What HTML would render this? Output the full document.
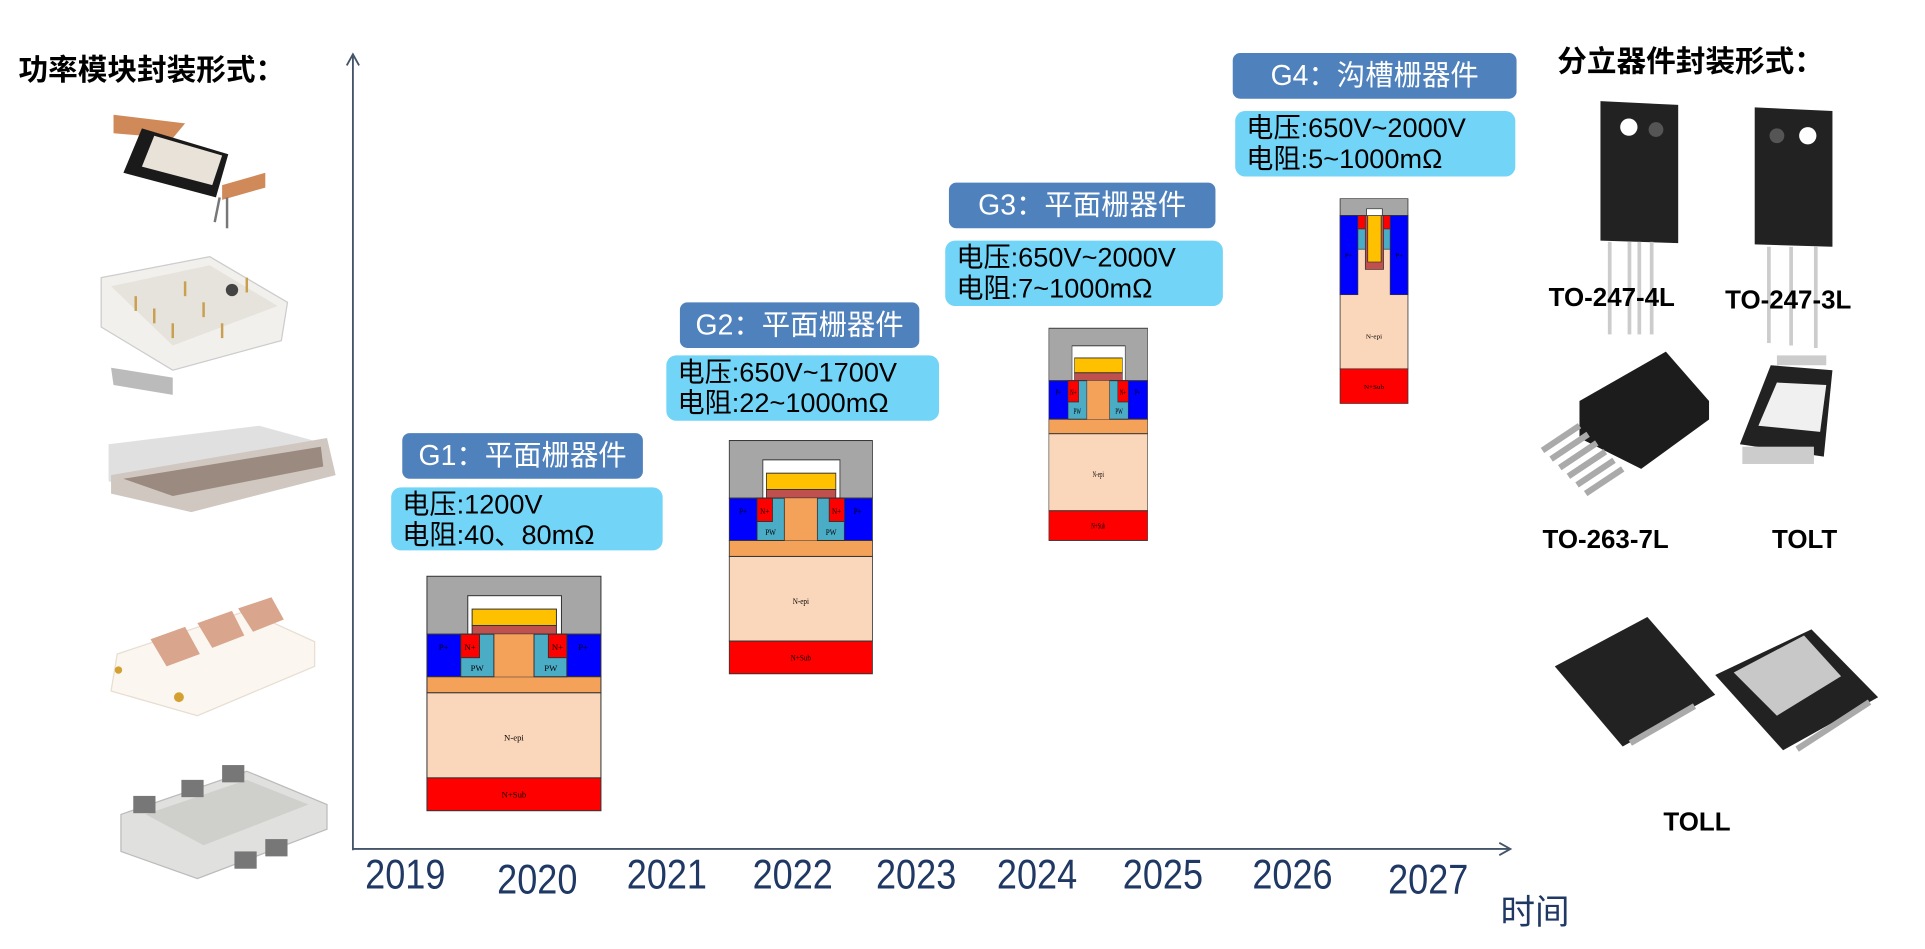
<!DOCTYPE html>
<html><head><meta charset="utf-8">
<style>
html,body{margin:0;padding:0;background:#fff;width:1925px;height:949px;overflow:hidden}
#c{position:absolute;left:0;top:0;width:1560px;height:769px;transform:scale(1.23397);transform-origin:0 0;font-family:"Liberation Sans","Noto Sans CJK SC",sans-serif}
.a{position:absolute}
.t{position:absolute;background:#4f81bd;color:#fff;border-radius:6px;font-size:23px;line-height:37px;text-align:center;white-space:nowrap}
.i{position:absolute;background:#72d4f6;color:#000;border-radius:8px;font-size:22px;line-height:25px;padding:1px 0 0 9px;box-sizing:border-box;white-space:nowrap}
.y{position:absolute;top:690px;font-size:34px;color:#1f3864;transform:scaleX(0.86);transform-origin:center;width:70px;text-align:center}
.h{position:absolute;font-weight:bold;font-size:24px;color:#000;white-space:nowrap}
.l{position:absolute;font-weight:bold;font-size:21px;color:#000;white-space:nowrap}
svg{position:absolute;overflow:visible}
</style></head><body><div id="c">

<div class="h" style="left:15px;top:37px">功率模块封装形式：</div>
<div class="h" style="left:1262px;top:30px">分立器件封装形式：</div>

<svg style="left:0;top:0" width="1560" height="769">
<line x1="286" y1="44" x2="286" y2="689" stroke="#44546a" stroke-width="1.5"/>
<polyline points="281,53 286,44 291,53" fill="none" stroke="#44546a" stroke-width="1.5"/>
<line x1="286" y1="688" x2="1224" y2="688" stroke="#44546a" stroke-width="1.5"/>
<polyline points="1215,683 1224,688 1215,693" fill="none" stroke="#44546a" stroke-width="1.5"/>
</svg>

<div class="y" style="left:291px">2019</div>
<div class="y" style="left:398px;top:694px">2020</div>
<div class="y" style="left:503px">2021</div>
<div class="y" style="left:605px">2022</div>
<div class="y" style="left:705px">2023</div>
<div class="y" style="left:803px">2024</div>
<div class="y" style="left:905px">2025</div>
<div class="y" style="left:1010px">2026</div>
<div class="y" style="left:1120px;top:694px">2027</div>
<div class="a" style="left:1216px;top:718px;font-size:28px;color:#1f3864">时间</div>

<div class="t" style="left:326px;top:351px;width:195px">G1：平面栅器件</div>
<div class="i" style="left:317px;top:395px;width:220px;height:51px">电压:1200V<br>电阻:40、80mΩ</div>
<div class="t" style="left:551px;top:245px;width:194px">G2：平面栅器件</div>
<div class="i" style="left:540px;top:288px;width:221px;height:53px">电压:650V~1700V<br>电阻:22~1000mΩ</div>
<div class="t" style="left:769px;top:148px;width:216px">G3：平面栅器件</div>
<div class="i" style="left:766px;top:195px;width:225px;height:53px">电压:650V~2000V<br>电阻:7~1000mΩ</div>
<div class="t" style="left:999px;top:43px;width:230px">G4：沟槽栅器件</div>
<div class="i" style="left:1001px;top:90px;width:227px;height:53px">电压:650V~2000V<br>电阻:5~1000mΩ</div>

<svg style="left:346px;top:467px" width="141" height="190" viewBox="0 0 520 700" preserveAspectRatio="none">
<g stroke="#333" stroke-width="3">
<rect x="0" y="0" width="520" height="173" fill="#a6a6a6"/>
<rect x="122" y="58" width="280" height="115" fill="#fff"/>
<rect x="135" y="98" width="252" height="49" fill="#ffc000"/>
<rect x="135" y="147" width="252" height="26" fill="#c0504d"/>
<rect x="0" y="173" width="520" height="127" fill="#0000ff"/>
<rect x="0" y="300" width="520" height="48" fill="#f4a15a"/>
<rect x="200" y="173" width="120" height="127" fill="#f4a15a" stroke="none"/>
<rect x="101" y="173" width="99" height="127" fill="#4bacc6"/>
<rect x="101" y="173" width="56" height="70" fill="#ff0000"/>
<rect x="320" y="173" width="98" height="127" fill="#4bacc6"/>
<rect x="363" y="173" width="55" height="70" fill="#ff0000"/>
<rect x="0" y="348" width="520" height="254" fill="#fad7bb"/>
<rect x="0" y="602" width="520" height="98" fill="#ff0000"/>
</g>
<g font-family="Liberation Serif" font-size="26" fill="#000" text-anchor="middle">
<text x="50" y="220">P+</text><text x="129" y="220">N+</text><text x="150" y="283">PW</text>
<text x="390" y="220">N+</text><text x="370" y="283">PW</text><text x="467" y="220">P+</text>
<text x="260" y="490">N-epi</text><text x="260" y="660">N+Sub</text></g>
</svg>
<svg style="left:591px;top:357px" width="116" height="189" viewBox="0 0 520 700" preserveAspectRatio="none">
<g stroke="#333" stroke-width="3">
<rect x="0" y="0" width="520" height="173" fill="#a6a6a6"/>
<rect x="122" y="58" width="280" height="115" fill="#fff"/>
<rect x="135" y="98" width="252" height="49" fill="#ffc000"/>
<rect x="135" y="147" width="252" height="26" fill="#c0504d"/>
<rect x="0" y="173" width="520" height="127" fill="#0000ff"/>
<rect x="0" y="300" width="520" height="48" fill="#f4a15a"/>
<rect x="200" y="173" width="120" height="127" fill="#f4a15a" stroke="none"/>
<rect x="101" y="173" width="99" height="127" fill="#4bacc6"/>
<rect x="101" y="173" width="56" height="70" fill="#ff0000"/>
<rect x="320" y="173" width="98" height="127" fill="#4bacc6"/>
<rect x="363" y="173" width="55" height="70" fill="#ff0000"/>
<rect x="0" y="348" width="520" height="254" fill="#fad7bb"/>
<rect x="0" y="602" width="520" height="98" fill="#ff0000"/>
</g>
<g font-family="Liberation Serif" font-size="26" fill="#000" text-anchor="middle">
<text x="50" y="220">P+</text><text x="129" y="220">N+</text><text x="150" y="283">PW</text>
<text x="390" y="220">N+</text><text x="370" y="283">PW</text><text x="467" y="220">P+</text>
<text x="260" y="490">N-epi</text><text x="260" y="660">N+Sub</text></g>
</svg>
<svg style="left:850px;top:266px" width="80" height="172" viewBox="0 0 520 700" preserveAspectRatio="none">
<g stroke="#333" stroke-width="3">
<rect x="0" y="0" width="520" height="173" fill="#a6a6a6"/>
<rect x="122" y="58" width="280" height="115" fill="#fff"/>
<rect x="135" y="98" width="252" height="49" fill="#ffc000"/>
<rect x="135" y="147" width="252" height="26" fill="#c0504d"/>
<rect x="0" y="173" width="520" height="127" fill="#0000ff"/>
<rect x="0" y="300" width="520" height="48" fill="#f4a15a"/>
<rect x="200" y="173" width="120" height="127" fill="#f4a15a" stroke="none"/>
<rect x="101" y="173" width="99" height="127" fill="#4bacc6"/>
<rect x="101" y="173" width="56" height="70" fill="#ff0000"/>
<rect x="320" y="173" width="98" height="127" fill="#4bacc6"/>
<rect x="363" y="173" width="55" height="70" fill="#ff0000"/>
<rect x="0" y="348" width="520" height="254" fill="#fad7bb"/>
<rect x="0" y="602" width="520" height="98" fill="#ff0000"/>
</g>
<g font-family="Liberation Serif" font-size="26" fill="#000" text-anchor="middle">
<text x="50" y="220">P+</text><text x="129" y="220">N+</text><text x="150" y="283">PW</text>
<text x="390" y="220">N+</text><text x="370" y="283">PW</text><text x="467" y="220">P+</text>
<text x="260" y="490">N-epi</text><text x="260" y="660">N+Sub</text></g>
</svg>

<svg style="left:1086px;top:161px" width="55" height="166" viewBox="0 0 172 608" preserveAspectRatio="none">
<g stroke="#333" stroke-width="2">
<rect x="0" y="0" width="172" height="50" fill="#a6a6a6"/>
<rect x="0" y="50" width="172" height="455" fill="#fad7bb"/>
<rect x="0" y="50" width="45" height="235" fill="#0000ff"/>
<rect x="127" y="50" width="45" height="235" fill="#0000ff"/>
<rect x="45" y="50" width="22" height="40" fill="#ff0000"/>
<rect x="107" y="50" width="20" height="40" fill="#ff0000"/>
<rect x="45" y="90" width="22" height="60" fill="#4bacc6"/>
<rect x="107" y="90" width="20" height="60" fill="#4bacc6"/>
<rect x="64" y="50" width="46" height="160" fill="#c0504d"/>
<rect x="70" y="50" width="34" height="138" fill="#ffc000"/>
<rect x="67" y="30" width="40" height="20" fill="#fff"/>
<rect x="0" y="505" width="172" height="103" fill="#ff0000"/>
</g>
<g font-family="Liberation Serif" font-size="18" fill="#000" text-anchor="middle">
<text x="22" y="175">P+</text><text x="150" y="175">P+</text>
<text x="86" y="415">N-epi</text><text x="86" y="565">N+Sub</text></g>
</svg>

<svg style="left:0;top:0" width="280" height="769">
<polygon points="92,93 150,100 140,112 92,108" fill="#d08a5a"/>
<polygon points="180,150 215,140 215,152 180,162" fill="#d08a5a"/>
<polygon points="115,104 185,125 175,160 100,140" fill="#1a1a1a"/>
<polygon points="125,110 180,126 172,150 115,135" fill="#e8e2d8"/>
<line x1="178" y1="160" x2="174" y2="180" stroke="#777" stroke-width="2"/>
<line x1="184" y1="160" x2="184" y2="185" stroke="#777" stroke-width="2"/>
<polygon points="82,225 170,208 233,245 228,276 140,300 82,265" fill="#f2f0ec" stroke="#ccc"/>
<polygon points="90,232 170,215 225,248 140,280" fill="#e6e2dc"/>
<circle cx="188" cy="235" r="5" fill="#444"/>
<polygon points="90,298 140,306 140,320 92,312" fill="#bbb"/>
<g stroke="#c8a050" stroke-width="2">
<line x1="110" y1="240" x2="110" y2="252"/><line x1="125" y1="250" x2="125" y2="262"/><line x1="150" y1="228" x2="150" y2="240"/>
<line x1="165" y1="245" x2="165" y2="257"/><line x1="200" y1="225" x2="200" y2="237"/><line x1="180" y1="262" x2="180" y2="274"/><line x1="140" y1="262" x2="140" y2="274"/></g>
<polygon points="88,360 210,345 265,360 265,380 150,410 88,390" fill="#ddd" opacity="0.9"/>
<polygon points="90,385 265,355 272,385 155,415 90,400" fill="#cfc7c0"/>
<polygon points="100,388 260,362 262,378 140,402" fill="#9a8a80"/>
<polygon points="95,530 200,495 255,520 255,540 160,580 90,560" fill="#fbf6f0" stroke="#e8ddd0"/>
<polygon points="122,518 150,508 162,530 135,540" fill="#d9a58c"/>
<polygon points="160,505 188,495 198,515 172,525" fill="#d9a58c"/>
<polygon points="193,493 220,484 230,502 205,512" fill="#d9a58c"/>
<circle cx="145" cy="565" r="4" fill="#d4a030"/><circle cx="96" cy="543" r="3" fill="#d4a030"/>
<polygon points="98,660 200,625 265,652 265,672 160,712 98,690" fill="#e0e0de" stroke="#bbb"/>
<polygon points="118,660 200,632 250,652 165,685" fill="#cfcfcc"/>
<rect x="108" y="645" width="18" height="14" fill="#777"/><rect x="147" y="632" width="18" height="14" fill="#777"/><rect x="180" y="620" width="18" height="14" fill="#777"/>
<rect x="190" y="690" width="18" height="14" fill="#777"/><rect x="215" y="680" width="18" height="14" fill="#777"/>
</svg>

<svg style="left:1240px;top:60px" width="320" height="620">
<polygon points="57,22 120,25 120,137 57,135" fill="#222"/>
<circle cx="80" cy="43" r="7" fill="#fff"/><circle cx="102" cy="45" r="6" fill="#555"/>
<g fill="#ccc"><rect x="63" y="136" width="3" height="75"/><rect x="79" y="136" width="3" height="75"/><rect x="87" y="136" width="3" height="75"/><rect x="97" y="136" width="3" height="75"/></g>
<polygon points="182,27 245,30 245,140 182,138" fill="#222"/>
<circle cx="200" cy="50" r="6" fill="#555"/><circle cx="225" cy="50" r="7" fill="#fff"/>
<g fill="#ccc"><rect x="192" y="140" width="3" height="78"/><rect x="210" y="140" width="3" height="80"/><rect x="230" y="140" width="3" height="82"/></g>
<polygon points="40,265 110,225 145,265 145,280 90,320 40,295" fill="#1c1c1c"/>
<g stroke="#aaa" stroke-width="5"><line x1="10" y1="305" x2="40" y2="285"/><line x1="17" y1="312" x2="47" y2="292"/><line x1="24" y1="319" x2="54" y2="299"/><line x1="31" y1="326" x2="61" y2="306"/><line x1="38" y1="333" x2="68" y2="313"/><line x1="45" y1="340" x2="75" y2="320"/></g>
<polygon points="195,236 245,240 238,310 170,300" fill="#222"/>
<polygon points="200,250 240,252 235,290 185,285" fill="#f0f0f0"/>
<g fill="#ccc"><rect x="200" y="228" width="40" height="8"/><rect x="172" y="302" width="58" height="14"/></g>
<polygon points="20,480 95,440 150,503 75,545" fill="#222"/>
<g fill="#aaa"><rect x="80" y="540" width="60" height="5" transform="rotate(-30 80 540)"/></g>
<polygon points="150,487 228,450 282,505 205,548" fill="#222"/>
<polygon points="165,485 222,455 252,488 200,520" fill="#c8c8c8"/>
<g fill="#aaa"><rect x="215" y="545" width="70" height="5" transform="rotate(-33 215 545)"/></g>
</svg>

<div class="l" style="left:1255px;top:230px">TO-247-4L</div>
<div class="l" style="left:1398px;top:232px">TO-247-3L</div>
<div class="l" style="left:1250px;top:426px">TO-263-7L</div>
<div class="l" style="left:1436px;top:426px">TOLT</div>
<div class="l" style="left:1348px;top:655px">TOLL</div>

</div></body></html>
